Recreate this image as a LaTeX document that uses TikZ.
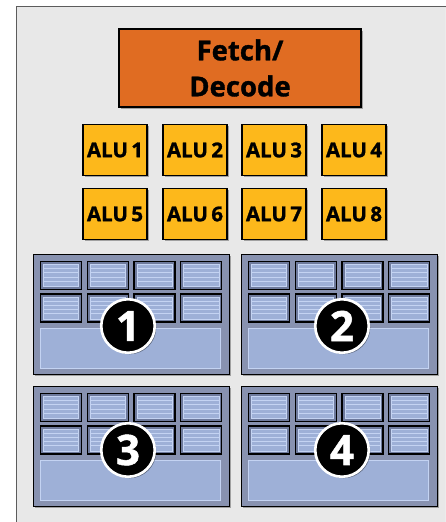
\documentclass[tikz,border=0pt]{standalone}
\usepackage{fontspec}
\setmainfont{Open Sans}
\newfontfamily\heavyfont{Open Sans}[BoldFeatures={FakeBold=1.2}]
\usetikzlibrary{shadows}
\definecolor{bgfill}{HTML}{E8E8E8}
\definecolor{framecol}{HTML}{5C5C5C}
\definecolor{fetchcol}{HTML}{E06C22}
\definecolor{alucol}{HTML}{FDB81B}
\definecolor{corecol}{HTML}{8892B0}
\definecolor{regdark}{HTML}{6E7A9C}
\definecolor{cellcol}{HTML}{9EB0D7}
\definecolor{celline}{HTML}{C4D3F2}
\tikzset{
  shad/.style={drop shadow={shadow xshift=1.5pt, shadow yshift=-1.5pt, opacity=0.3, fill=black}},
  fetchbox/.style={draw=black, line width=1.3pt, fill=fetchcol, minimum width=242pt, minimum height=78pt,
    inner sep=0pt, font=\heavyfont\bfseries\fontsize{27.5}{36}\selectfont, align=center, shad},
  alubox/.style={draw=black, line width=1.3pt, fill=alucol, minimum width=64pt, minimum height=51pt,
    inner sep=0pt, font=\heavyfont\bfseries\fontsize{20.5}{24}\selectfont, shad},
  coreblk/.style={draw=black, line width=1.4pt, fill=corecol, minimum width=196pt, minimum height=120pt,
    inner sep=0pt, shad},
  regcell/.style={draw=black, line width=1.2pt, fill=regdark, minimum width=41pt, minimum height=28pt, inner sep=0pt},
  bigcell/.style={draw=celline, line width=0.9pt, fill=cellcol, minimum width=180pt, minimum height=40pt, inner sep=0pt},
  numcirc/.style={circle, draw=white, line width=2.6pt, fill=black, text=white, minimum size=53.5pt, inner sep=0pt,
    font=\heavyfont\bfseries\fontsize{42}{42}\selectfont,
    drop shadow={shadow xshift=1.5pt, shadow yshift=-1.5pt, opacity=0.4, fill=black}},
}
\begin{document}
\begin{tikzpicture}[x=1pt,y=-1pt]
\useasboundingbox (0,0) rectangle (446,522);
\fill[white] (0,0) rectangle (446,522);
\fill[bgfill] (16.5,6.5) rectangle (446,522);
\draw[framecol, line width=1.6pt] (16.5,523) -- (16.5,6.5) -- (447,6.5);
\draw[white!85!gray, line width=0.6pt] (445,8) -- (445,522);

\node[fetchbox] (fetch) at (240,68) {Fetch/\\Decode};

\foreach \i/\x/\y in {1/115/150, 2/195/150, 3/274/150, 4/354/150,
                      5/115/214, 6/195/214, 7/274/214, 8/354/214}{
  \node[alubox] (alu\i) at (\x,\y) {ALU\,\i};
}

\foreach \b/\bx/\by/\cx/\cy in {1/33/254/128/326, 2/241/254/342/326, 3/33/386/128/450, 4/241/386/342/450}{
  \node[coreblk, anchor=north west] (core\b) at (\bx,\by) {};
  \foreach \r/\ry in {1/6.7, 2/39.3}{
    \foreach \c/\cxo in {1/7, 2/53.7, 3/100.4, 4/147.1}{
      \node[regcell, anchor=north west] (reg\b\r\c) at (\bx+\cxo,\by+\ry) {};
      \fill[cellcol] ([xshift=3.5pt,yshift=-3.5pt]reg\b\r\c.north west) rectangle ([xshift=-3.5pt,yshift=3.5pt]reg\b\r\c.south east);
      \draw[celline, line width=0.6pt] ([xshift=3.5pt,yshift=-3.5pt]reg\b\r\c.north west) rectangle ([xshift=-3.5pt,yshift=3.5pt]reg\b\r\c.south east);
      \foreach \k in {1,...,4}{
        \draw[celline, line width=0.6pt] ([xshift=3.5pt,yshift=-3.5pt-4.2pt*\k]reg\b\r\c.north west) -- ([xshift=-3.5pt,yshift=-3.5pt-4.2pt*\k]reg\b\r\c.north east);
      }
    }
  }
  \node[bigcell, anchor=north west] (big\b) at (\bx+6.5,\by+74.3) {};
  \node[numcirc] (num\b) at (\cx,\cy) {\b};
}
\end{tikzpicture}
\end{document}
